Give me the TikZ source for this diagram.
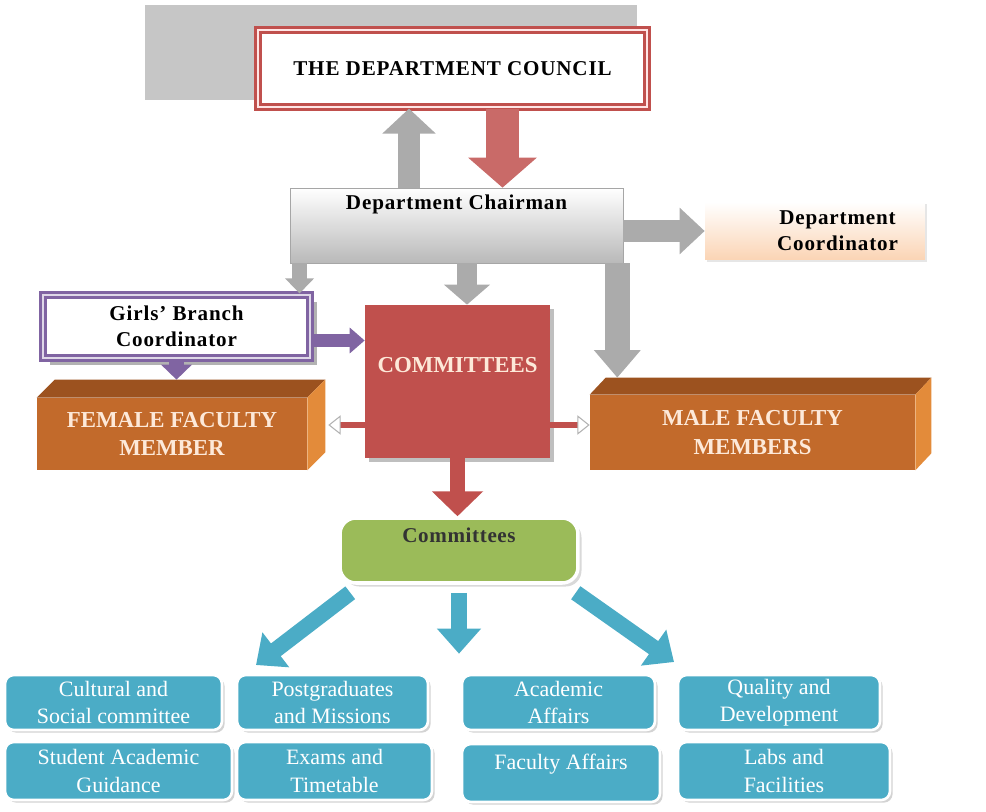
\documentclass[tikz,border=0pt]{standalone}
\usepackage{fontspec}
\setmainfont{Liberation Serif}
\usetikzlibrary{arrows.meta,shadows}

\definecolor{councilred}{HTML}{C0504D}
\definecolor{arrgray}{HTML}{ABABAB}
\definecolor{peach}{HTML}{FBD4B4}
\definecolor{branchpurple}{HTML}{8064A2}
\definecolor{boxfront}{HTML}{C26A2B}
\definecolor{boxtop}{HTML}{9C521F}
\definecolor{boxside}{HTML}{E38B3A}
\definecolor{cream}{HTML}{FDE9D9}
\definecolor{comgreen}{HTML}{9BBB59}
\definecolor{comblue}{HTML}{4BACC6}

\tikzset{
  box/.style={inner sep=0pt, align=center, font=\bfseries\fontsize{12}{15}\selectfont\addfontfeature{LetterSpace=4}},
  doublebox/.style={box, fill=white, line width=1.8pt, double distance=1.2pt},
  facultybox/.style={box, fill=boxfront, text=cream, font=\bfseries\fontsize{13}{16}\selectfont},
  combox/.style={inner sep=0pt, align=center, rounded corners=5pt, fill=comblue,
    draw=white, line width=1.5pt, text=white, font=\fontsize{12.5}{15.5}\selectfont,
    drop shadow={opacity=0.35, shadow xshift=1.5pt, shadow yshift=-1.5pt}},
  blockarrow/.style n args={3}{line width=#1, -{Triangle[width=#2,length=#3]}},
  smallarrow/.style={line width=3pt, draw=councilred,
    -{Triangle[width=11pt,length=7pt,fill=white,color=gray!60,line width=0.6pt]}}
}

\begin{document}
\begin{tikzpicture}[x=0.02cm,y=-0.02cm]
  \useasboundingbox (0,0) rectangle (986,811);
  \fill[gray!45] (145,5) rectangle (637,100);

  % top of the chart
  \node[doublebox, draw=councilred, double=pink!40, minimum width=7.78cm, minimum height=1.54cm]
    (council) at (452.5,68.5) {THE DEPARTMENT COUNCIL};
  \node[box, draw=gray!70, shading=axis, top color=white, middle color=gray!30, bottom color=gray!55,
    minimum width=6.66cm, minimum height=1.5cm,
    label={[anchor=center, yshift=-0.34cm, font=\bfseries\fontsize{12}{15}\selectfont\addfontfeature{LetterSpace=4}]north:Department Chairman}]
    (chair) at (456.5,225.5) {};
  \node[box, top color=white, bottom color=peach, minimum width=4.4cm, minimum height=1.16cm,
    drop shadow={opacity=0.2, shadow xshift=1pt, shadow yshift=-1pt}]
    (coord) at (815,231) {\hspace*{0.9cm}Department\\\hspace*{0.9cm}Coordinator};

  \draw[blockarrow={0.44cm}{1.04cm}{0.5cm}, draw=arrgray]
    ([xshift=-0.95cm]chair.north) coordinate (up) -- (up |- council.south);
  \draw[blockarrow={0.66cm}{1.34cm}{0.6cm}, draw=councilred!85]
    ([xshift=1.0cm]council.south) coordinate (down) -- (down |- chair.north);
  \draw[blockarrow={0.44cm}{0.9cm}{0.5cm}, draw=arrgray]
    (chair.east |- coord.west) -- (coord.west);

  % middle row
  \node[doublebox, draw=branchpurple, double=branchpurple!25, minimum width=5.34cm, minimum height=1.26cm,
    drop shadow={fill=gray!60, opacity=1, shadow xshift=4pt, shadow yshift=-4pt}]
    (girls) at (176.5,326.5) {Girls' Branch\\Coordinator};
  \node[box, fill=councilred, minimum width=3.7cm, minimum height=3.06cm,
    drop shadow={fill=gray!50, opacity=1, shadow xshift=2.5pt, shadow yshift=-2.5pt},
    label={[anchor=center, yshift=-1.2cm, text=cream, font=\bfseries\fontsize{13}{16}\selectfont]north:COMMITTEES}]
    (com) at (457.5,381.5) {};

  \node[facultybox, minimum width=5.4cm, minimum height=1.44cm] (female) at (172,434) {FEMALE FACULTY\\MEMBER};
  \fill[boxtop] (female.north west) -- ++(18,-18) -- ([shift={(18,-18)}]female.north east)
    -- (female.north east) -- cycle;
  \fill[boxside] (female.north east) -- ++(18,-18) -- ([shift={(18,-18)}]female.south east)
    -- (female.south east) -- cycle;
  \coordinate (femaletop) at ([yshift=0.36cm]female.north);
  \coordinate (femaleside) at ([xshift=0.42cm]female.east);

  \node[facultybox, minimum width=6.5cm, minimum height=1.5cm] (male) at (752.5,432.5) {MALE FACULTY\\MEMBERS};
  \fill[boxtop] (male.north west) -- ++(16,-17) -- ([shift={(16,-17)}]male.north east)
    -- (male.north east) -- cycle;
  \fill[boxside] (male.north east) -- ++(16,-17) -- ([shift={(16,-17)}]male.south east)
    -- (male.south east) -- cycle;
  \coordinate (maletop) at ([yshift=0.34cm]male.north);

  \draw[blockarrow={0.3cm}{0.56cm}{0.3cm}, draw=arrgray]
    ([xshift=-0.24cm]chair.south -| girls.north east) coordinate (gl) -- (gl |- girls.north);
  \draw[blockarrow={0.4cm}{0.9cm}{0.4cm}, draw=arrgray]
    ([xshift=0.21cm]chair.south) coordinate (gm) -- (gm |- com.north);
  \draw[blockarrow={0.5cm}{0.9cm}{0.55cm}, draw=arrgray]
    ([xshift=-0.12cm]chair.south east) coordinate (gr) -- (gr |- maletop);
  \draw[blockarrow={0.26cm}{0.5cm}{0.3cm}, draw=branchpurple]
    ([yshift=-0.28cm]girls.east) coordinate (pr) -- (pr -| com.west);
  \draw[blockarrow={0.3cm}{0.6cm}{0.3cm}, draw=branchpurple]
    (girls.south) -- (girls.south |- femaletop);

  \draw[smallarrow] ([yshift=-0.87cm]com.west) coordinate (sl) -- (sl -| femaleside);
  \draw[smallarrow] ([yshift=-0.87cm]com.east) coordinate (sr) -- (sr -| male.west);

  % committees
  \node[box, rounded corners=9pt, fill=comgreen, draw=white, line width=2pt,
    minimum width=4.76cm, minimum height=1.3cm,
    drop shadow={opacity=0.3, shadow xshift=2pt, shadow yshift=-2pt},
    label={[anchor=center, yshift=-0.38cm, text=black!80, font=\bfseries\fontsize{12}{15}\selectfont\addfontfeature{LetterSpace=3}]north:Committees}]
    (green) at (459,550.5) {};
  \draw[blockarrow={0.3cm}{1.0cm}{0.5cm}, draw=councilred]
    (com.south) -- (com.south |- green.north);

  \node[combox, minimum width=4.34cm, minimum height=1.1cm] (cult) at (113.5,702.5) {Cultural and\\Social committee};
  \node[combox, minimum width=3.82cm, minimum height=1.1cm] (post) at (332.5,702.5) {Postgraduates\\and Missions};
  \node[combox, minimum width=3.86cm, minimum height=1.1cm] (acad) at (558.5,702.5) {Academic\\Affairs};
  \node[combox, minimum width=4.04cm, minimum height=1.1cm] (qual) at (779,702.5) {Quality and\\Development};
  \node[combox, minimum width=4.54cm, minimum height=1.16cm] (guid) at (118.5,771) {Student Academic\\Guidance};
  \node[combox, minimum width=3.9cm, minimum height=1.16cm] (exam) at (334.5,771) {Exams and\\Timetable};
  \node[combox, minimum width=3.96cm, minimum height=1.16cm,
    label={[anchor=center, yshift=-0.42cm, text=white, font=\fontsize{12.5}{15.5}\selectfont]north:Faculty Affairs}]
    (fac) at (561,773) {};
  \node[combox, minimum width=4.24cm, minimum height=1.16cm] (labs) at (784,771) {Labs and\\Facilities};

  \coordinate (lefttip) at (256,665);
  \coordinate (righttip) at (674,662);
  \draw[blockarrow={0.32cm}{0.85cm}{0.5cm}, draw=comblue]
    ([shift={(12,8)}]green.south west) -- (lefttip);
  \draw[blockarrow={0.32cm}{0.85cm}{0.5cm}, draw=comblue]
    ([shift={(0,8)}]green.south) -- ([yshift=0.4cm]green.south |- acad.north);
  \draw[blockarrow={0.32cm}{0.85cm}{0.5cm}, draw=comblue]
    ([shift={(-4,8)}]green.south east) -- (righttip);
\end{tikzpicture}
\end{document}
